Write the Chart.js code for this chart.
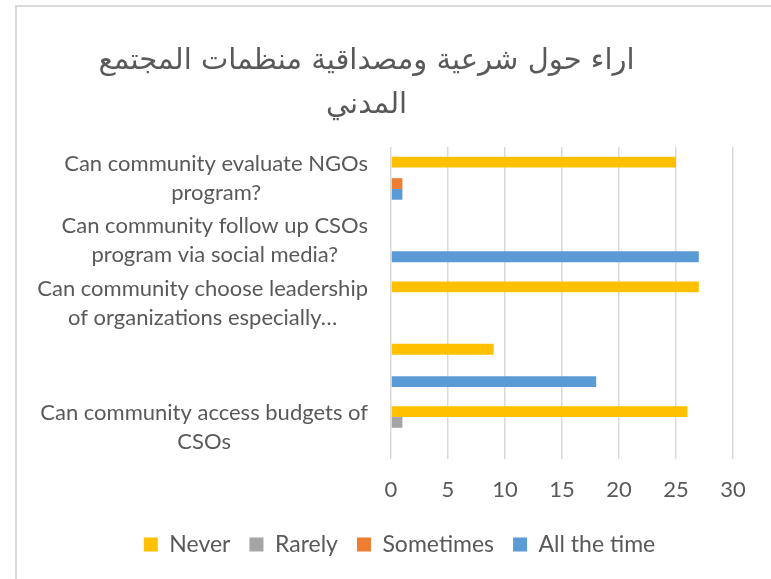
<!DOCTYPE html>
<html>
<head>
<meta charset="utf-8">
<script src="https://cdn.jsdelivr.net/npm/chart.js@4"></script>
<style>
  html, body { margin: 0; padding: 0; background: #fff; overflow: hidden; }
  #wrap { position: relative; width: 771px; height: 579px; }
</style>
</head>
<body>
<div id="wrap"><canvas id="myBarChart" width="771" height="579"></canvas></div>
<script>
const titleLines = ['اراء حول شرعية ومصداقية منظمات المجتمع', 'المدني'];

const categories = [
    ['Can community evaluate NGOs', 'program?'],
    ['Can community follow up CSOs', 'program via social media?'],
    ['Can community choose leadership', 'of organizations especially…'],
    [''],
    ['Can community access budgets of', 'CSOs']
];

const seriesNames = ['Never', 'Rarely', 'Sometimes', 'All the time'];
const never      = [25, 0, 27, 9, 26];
const rarely     = [0, 0, 0, 0, 1];
const sometimes  = [1, 0, 0, 0, 0];
const allTheTime = [1, 27, 0, 18, 0];
const xTicks = [0, 5, 10, 15, 20, 25, 30];

const colors = ['#FFC000', '#A5A5A5', '#ED7D31', '#5B9BD5'];
const textColor = '#595959';

// frame round the chart (only top and left edges show in the picture)
const framePlugin = {
    id: 'frame',
    beforeDraw(chart) {
        const ctx = chart.ctx;
        ctx.save();
        ctx.fillStyle = '#fff';
        ctx.fillRect(0, 0, chart.width, chart.height);
        ctx.strokeStyle = '#D9D9D9';
        ctx.lineWidth = 2;
        ctx.strokeRect(16, 6, 1000, 1000);
        ctx.restore();
    },
    // legend sits a bit right of centre in the original
    afterLayout(chart) {
        chart.legend.left += 33;
        chart.legend.right += 33;
    }
};

// category labels: block right aligned, lines centred inside the block
const yLabelPlugin = {
    id: 'yLabels',
    afterDraw(chart) {
        const scale = chart.scales.y;
        const ctx = chart.ctx;
        ctx.save();
        ctx.font = '22px Lato';
        ctx.fillStyle = textColor;
        ctx.textBaseline = 'middle';
        ctx.textAlign = 'center';
        const right = scale.right - 23;
        categories.forEach(function(lines, i) {
            const y = scale.getPixelForTick(i);
            const w = Math.max.apply(null, lines.map(l => ctx.measureText(l).width));
            const cx = right - w / 2;
            lines.forEach(function(l, j) {
                ctx.fillText(l, cx, y + (j - (lines.length - 1) / 2) * 29);
            });
        });
        ctx.restore();
    }
};

const ctx = document.getElementById('myBarChart').getContext('2d');
const seriesData = [never, rarely, sometimes, allTheTime];

new Chart(ctx, {
    type: 'bar',
    data: {
        labels: categories,
        datasets: seriesNames.map(function(name, i) {
            return {
                label: name,
                data: seriesData[i],
                backgroundColor: colors[i],
                borderWidth: 0,
                categoryPercentage: 0.69,
                barPercentage: 1.0
            };
        })
    },
    options: {
        indexAxis: 'y',
        responsive: false,
        animation: false,
        layout: { padding: { left: 0, right: 38, top: 0, bottom: 13 } },
        scales: {
            x: {
                min: 0,
                max: 30,
                afterBuildTicks: function(scale) {
                    scale.ticks = xTicks.map(v => ({ value: v }));
                },
                afterFit: function(scale) { scale.height = 55; },
                grid: { color: '#D9D9D9', lineWidth: 1.5, drawTicks: false },
                border: { display: false },
                ticks: {
                    padding: 18,
                    color: textColor,
                    font: { family: 'Lato', size: 22 }
                }
            },
            y: {
                afterFit: function(scale) { scale.width = 391; },
                grid: { display: false },
                border: { display: false },
                ticks: { display: false }
            }
        },
        plugins: {
            title: {
                display: true,
                text: titleLines,
                color: textColor,
                font: { family: 'DejaVu Sans', size: 29, weight: 'normal', lineHeight: 1.5 },
                padding: { top: 40, bottom: 20 }
            },
            legend: {
                position: 'bottom',
                labels: {
                    color: textColor,
                    font: { family: 'Lato', size: 23 },
                    boxWidth: 14,
                    boxHeight: 14,
                    padding: 19
                }
            },
            tooltip: { enabled: false }
        }
    },
    plugins: [framePlugin, yLabelPlugin]
});
</script>
</body>
</html>
